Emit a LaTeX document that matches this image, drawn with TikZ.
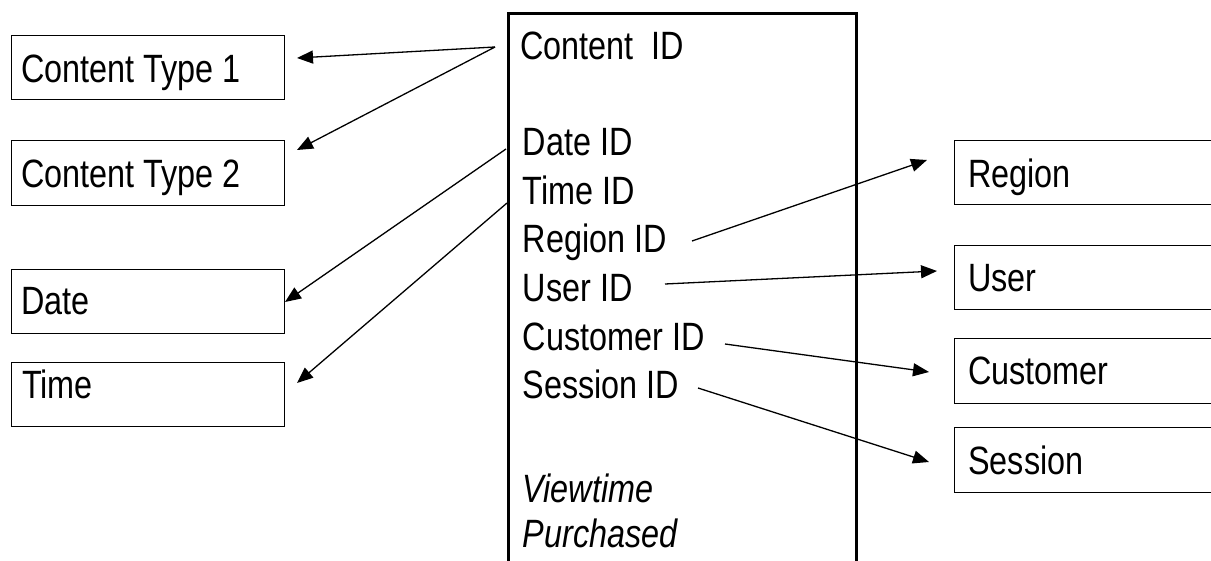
\documentclass[tikz,border=0pt]{standalone}
\usepackage{fontspec}
\setmainfont{Liberation Sans}[FakeStretch=0.82]
\usetikzlibrary{arrows.meta}
\tikzset{
  box/.style={draw=black, line width=1.3pt, rectangle, inner sep=0pt, anchor=north west},
  fact/.style={draw=black, line width=2.6pt, rectangle, inner sep=0pt, anchor=north west},
  lbl/.style={anchor=base west, inner sep=0pt, font=\fontsize{39.5}{46}\selectfont},
  ilbl/.style={lbl, font=\fontsize{39.5}{46}\selectfont\itshape},
  link/.style={line width=1.3pt, -{Triangle[length=16pt,width=13pt]}},
}
\begin{document}
\begin{tikzpicture}[x=1pt,y=-1pt]
\useasboundingbox (0,0) rectangle (1211,561);
\clip (0,0) rectangle (1211,561);
% left boxes
\node[box, minimum width=273pt, minimum height=64pt] (ct1) at (11,35) {};
\node[box, minimum width=273pt, minimum height=65pt] (ct2) at (11,140) {};
\node[box, minimum width=273pt, minimum height=64pt] (date) at (11,269) {};
\node[box, minimum width=273pt, minimum height=64pt] (time) at (11,362) {};
\node[lbl] (ct1t) at (21,83) {Content Type 1};
\node[lbl] (ct2t) at (21,188) {Content Type 2};
\node[lbl] (datet) at (21,315) {Date};
\node[lbl] (timet) at (22,399) {Time};
% central box
\node[fact, minimum width=348pt, minimum height=620pt] (fact) at (507,12) {};
\node[lbl] (cid) at (520,60) {Content\ \ ID};
\node[lbl] (did) at (522.5,156) {Date ID};
\node[lbl] (tid) at (522.5,205) {Time ID};
\node[lbl] (rid) at (522.5,253) {Region ID};
\node[lbl] (uid) at (522.5,302) {User ID};
\node[lbl] (cuid) at (522.5,351) {Customer ID};
\node[lbl] (sid) at (522.5,399) {Session ID};
\node[ilbl] (vt) at (522.5,502) {Viewtime};
\node[ilbl] (pu) at (522.5,547) {Purchased};
% right boxes
\node[box, minimum width=320pt, minimum height=64pt] (region) at (954,140) {};
\node[box, minimum width=320pt, minimum height=64pt] (user) at (954,245) {};
\node[box, minimum width=320pt, minimum height=65pt] (cust) at (954,338) {};
\node[box, minimum width=320pt, minimum height=65pt] (sess) at (954,427) {};
\node[lbl] (regiont) at (968,188) {Region};
\node[lbl] (usert) at (968,292) {User};
\node[lbl] (custt) at (968,385) {Customer};
\node[lbl] (sesst) at (968,474) {Session};
% connector end points
\coordinate (cidS) at (495,47);
\coordinate (ct1E) at (297,58);
\coordinate (ct2E) at (297,150);
\coordinate (didS) at (506,149);
\coordinate (dateE) at (285,302);
\coordinate (tidS) at (507,203);
\coordinate (timeE) at (297,383);
\coordinate (ridS) at (692,241);
\coordinate (regionE) at (927,160);
\coordinate (uidS) at (665,284);
\coordinate (userE) at (937,271);
\coordinate (cuidS) at (725,344);
\coordinate (custE) at (929,372);
\coordinate (sidS) at (698,388);
\coordinate (sessE) at (929,462);
% connectors
\draw[link] (cidS) -- (ct1E);
\draw[link] (cidS) -- (ct2E);
\draw[link] (didS) -- (dateE);
\draw[link] (tidS) -- (timeE);
\draw[link] (ridS) -- (regionE);
\draw[link] (uidS) -- (userE);
\draw[link] (cuidS) -- (custE);
\draw[link] (sidS) -- (sessE);
\end{tikzpicture}
\end{document}
